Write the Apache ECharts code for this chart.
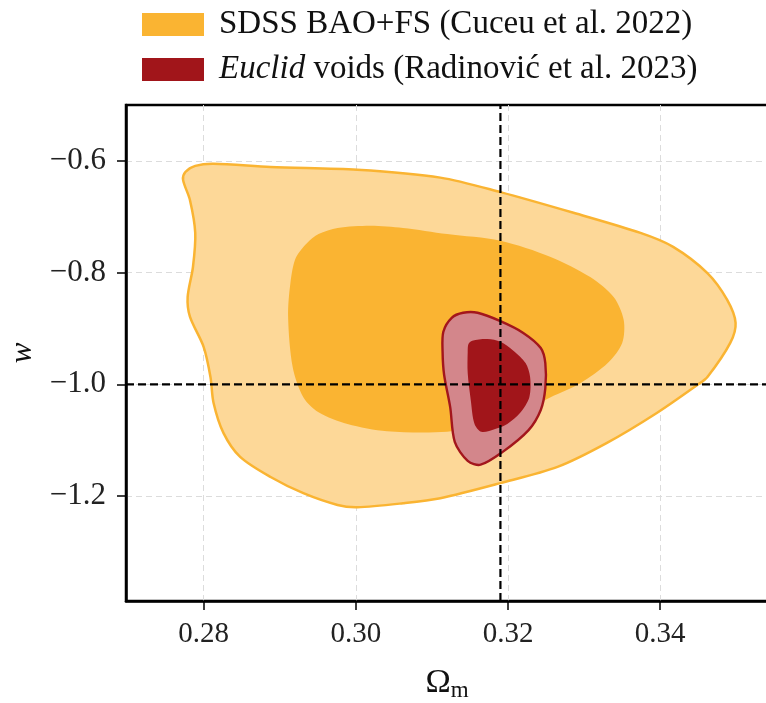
<!DOCTYPE html>
<html>
<head>
<meta charset="utf-8">
<title>Omega_m – w constraints</title>
<script src="https://cdn.jsdelivr.net/npm/echarts@6/dist/echarts.min.js"></script>
<style>
  html, body { margin: 0; padding: 0; background: #fff; }
  #chart { width: 766px; height: 703px; }
</style>
</head>
<body>
<div id="chart"></div>
<script>
// Axis ticks
const omegaTicks = [0.28, 0.30, 0.32, 0.34];
const wTicks = [-1.2, -1.0, -0.8, -0.6];

// Axis limits
const omegaMin = 0.2698, omegaMax = 0.35416;
const wMin = -1.388, wMax = -0.5;

// Fiducial cosmology (dashed reference lines)
const omegaRef = 0.319;
const wRef = -1.0;

// Legend labels
const sdssName = 'SDSS BAO+FS (Cuceu et al. 2022)';
const euclidName = 'Euclid voids (Radinović et al. 2023)';

// SDSS BAO+FS, 95% contour [Omega_m, w]
const sdss95 = [
  [0.2773, -0.634], [0.2776, -0.620], [0.2789, -0.609], [0.2813, -0.605],
  [0.2888, -0.611], [0.3002, -0.616], [0.3111, -0.630], [0.3190, -0.656],
  [0.3286, -0.693], [0.3374, -0.729], [0.3417, -0.754], [0.3462, -0.801],
  [0.3488, -0.849], [0.3499, -0.890], [0.3492, -0.926], [0.3462, -0.987],
  [0.3449, -1.001], [0.3396, -1.051], [0.3330, -1.105], [0.3265, -1.148],
  [0.3190, -1.177], [0.3111, -1.204], [0.3062, -1.213], [0.3002, -1.220],
  [0.2976, -1.216], [0.2931, -1.195], [0.2888, -1.166], [0.2848, -1.130],
  [0.2826, -1.087], [0.2813, -1.033], [0.2809, -0.987], [0.2800, -0.933],
  [0.2782, -0.879], [0.2779, -0.844], [0.2786, -0.790], [0.2789, -0.729],
  [0.2782, -0.670]
];

// SDSS BAO+FS, 68% contour
const sdss68 = [
  [0.2936, -0.747], [0.2951, -0.731], [0.2976, -0.720], [0.3019, -0.716],
  [0.3062, -0.720], [0.3120, -0.731], [0.3190, -0.743], [0.3256, -0.772],
  [0.3308, -0.808], [0.3339, -0.844], [0.3352, -0.885], [0.3350, -0.926],
  [0.3331, -0.962], [0.3295, -0.998], [0.3256, -1.023], [0.3216, -1.050],
  [0.3164, -1.073], [0.3120, -1.085], [0.3041, -1.084], [0.2989, -1.071],
  [0.2951, -1.050], [0.2931, -1.023], [0.2917, -0.969], [0.2911, -0.879],
  [0.2914, -0.819], [0.2921, -0.774]
];

// Euclid voids, 95% contour
const euclid95 = [
  [0.3160, -0.872], [0.3190, -0.887], [0.3220, -0.908], [0.3243, -0.935],
  [0.3249, -0.962], [0.3249, -1.007], [0.3243, -1.046], [0.3227, -1.082],
  [0.3193, -1.121], [0.3164, -1.144], [0.3147, -1.137], [0.3130, -1.103],
  [0.3124, -1.041], [0.3116, -0.983], [0.3114, -0.942], [0.3115, -0.906],
  [0.3126, -0.881], [0.3141, -0.872]
];

// Euclid voids, 68% contour
const euclid68 = [
  [0.3153, -0.922], [0.3173, -0.919], [0.3190, -0.924], [0.3207, -0.940],
  [0.3223, -0.962], [0.3229, -0.987], [0.3228, -1.023], [0.3216, -1.051],
  [0.3199, -1.071], [0.3183, -1.080], [0.3165, -1.085], [0.3156, -1.071],
  [0.3151, -1.028], [0.3147, -0.980], [0.3147, -0.942], [0.3148, -0.928]
];

const FONT = '"Liberation Serif", "DejaVu Serif", serif';
const ORANGE = '#fab432';
const ORANGE_LIGHT = '#fdd898';
const RED = '#a1151a';
const PINK = '#d3868b';

// One closed region drawn as a smoothed polygon through the contour points
function contourSeries(name, pts, fill, stroke, lineWidth, z) {
  return {
    type: 'custom',
    name: name,
    coordinateSystem: 'cartesian2d',
    data: pts,
    encode: { x: 0, y: 1 },
    z: z,
    silent: true,
    itemStyle: { color: fill },
    renderItem: function (params, api) {
      if (params.dataIndex !== 0) return null;
      const points = pts.map(function (p) { return api.coord(p); });
      return {
        type: 'polygon',
        shape: { points: points, smooth: 0.3 },
        style: {
          fill: fill,
          stroke: stroke || 'none',
          lineWidth: lineWidth || 0
        }
      };
    }
  };
}

// Dashed black guide line across the whole panel
function guideSeries(points) {
  return {
    type: 'line',
    data: points,
    z: 20,
    silent: true,
    showSymbol: false,
    symbol: 'none',
    lineStyle: { color: '#000', width: 2.2, type: [8, 4] },
    tooltip: { show: false }
  };
}

function fmtTick(v, digits) {
  const s = Math.abs(v).toFixed(digits);
  return v < 0 ? '\u2212' + s : s;
}

const chart = echarts.init(document.getElementById('chart'), null, { renderer: 'canvas' });

chart.setOption({
  animation: false,
  backgroundColor: '#fff',
  grid: {
    left: 126, right: -2, top: 105, bottom: 102,
    show: true, borderColor: '#000', borderWidth: 2.5,
    containLabel: false,
    outerBoundsMode: 'none'
  },
  legend: {
    orient: 'vertical',
    left: 137, top: 3,
    icon: 'rect',
    itemWidth: 62, itemHeight: 23,
    itemGap: 12,
    selectedMode: false,
    textStyle: {
      fontFamily: FONT, fontSize: 33, color: '#111',
      padding: [0, 0, 0, 10],
      rich: { i: { fontFamily: FONT, fontSize: 33, fontStyle: 'italic', color: '#111' } }
    },
    formatter: function (name) {
      if (name.indexOf('Euclid') === 0) return '{i|Euclid}' + name.slice(6);
      return name;
    },
    data: [
      { name: sdssName, itemStyle: { color: ORANGE } },
      { name: euclidName, itemStyle: { color: RED } }
    ]
  },
  xAxis: {
    type: 'value',
    min: omegaMin, max: omegaMax,
    name: '{o|Ω}{s|m}',
    nameLocation: 'middle',
    nameGap: 64,
    nameTextStyle: {
      rich: {
        o: { fontFamily: FONT, fontSize: 34, color: '#111' },
        s: { fontFamily: FONT, fontSize: 23, color: '#111', verticalAlign: 'bottom', padding: [14, 0, 0, 0] }
      }
    },
    axisLine: { show: true, lineStyle: { color: '#000', width: 2.5 } },
    axisTick: { show: true, length: 9, lineStyle: { color: '#000', width: 1.5 }, customValues: omegaTicks },
    axisLabel: {
      customValues: omegaTicks, margin: 19,
      fontFamily: FONT, fontSize: 29, color: '#222',
      formatter: function (v) { return fmtTick(v, 2); }
    },
    splitLine: { show: true, lineStyle: { color: '#dcdcdc', width: 1, type: [6, 4] } }
  },
  yAxis: {
    type: 'value',
    min: wMin, max: wMax,
    name: 'w',
    nameLocation: 'middle',
    nameGap: 88,
    nameRotate: 90,
    nameTextStyle: { fontFamily: FONT, fontSize: 31, fontStyle: 'italic', color: '#111' },
    axisLine: { show: true, lineStyle: { color: '#000', width: 2.5 } },
    axisTick: { show: true, length: 9, lineStyle: { color: '#000', width: 1.5 }, customValues: wTicks },
    axisLabel: {
      customValues: wTicks, margin: 20,
      fontFamily: FONT, fontSize: 31, color: '#222',
      formatter: function (v) { return fmtTick(v, 1); }
    },
    splitLine: { show: true, lineStyle: { color: '#dcdcdc', width: 1, type: [6, 4] } }
  },
  series: [
    contourSeries(sdssName, sdss95, ORANGE_LIGHT, ORANGE, 2.5, 2),
    contourSeries(sdssName, sdss68, ORANGE, null, 0, 3),
    contourSeries(euclidName, euclid95, PINK, '#a3161c', 2.4, 4),
    contourSeries(euclidName, euclid68, RED, null, 0, 5),
    guideSeries([[omegaRef, wMin], [omegaRef, wMax]]),
    guideSeries([[omegaMin, wRef], [omegaMax, wRef]])
  ]
});
</script>
</body>
</html>
